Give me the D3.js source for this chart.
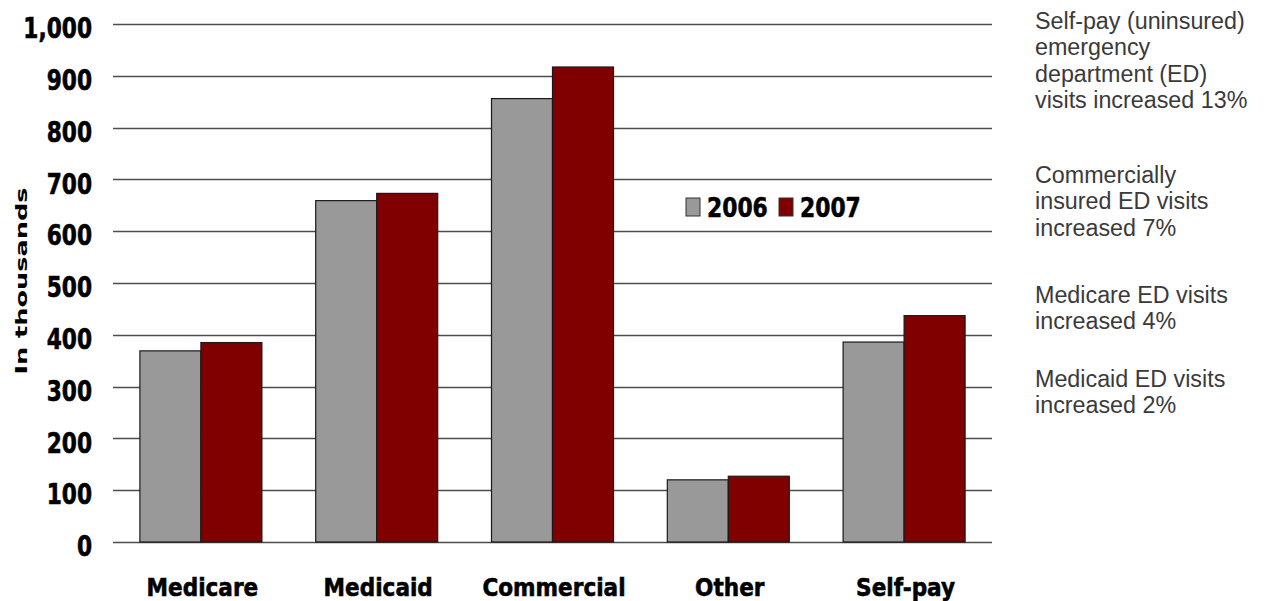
<!DOCTYPE html>
<html>
<head>
<meta charset="utf-8">
<script src="https://cdn.jsdelivr.net/npm/d3@7"></script>
<style>
  body { margin: 0; background: #fff; }
  svg { display: block; }
</style>
</head>
<body>
<div id="chart"></div>
<script>
// Data (ED visits, in thousands).
const categories = ["Medicare", "Medicaid", "Commercial", "Other", "Self-pay"];
const years = ["2006", "2007"];
const visits2006 = [369, 659, 856, 120, 386];
const visits2007 = [385, 673, 917, 127, 437];
const yTicks = [0, 100, 200, 300, 400, 500, 600, 700, 800, 900, 1000];
const notes = [
  ["Self-pay (uninsured)", "emergency", "department (ED)", "visits increased 13%"],
  ["Commercially", "insured ED visits", "increased 7%"],
  ["Medicare ED visits", "increased 4%"],
  ["Medicaid ED visits", "increased 2%"]
];

// Layout.
const W = 1264, H = 601;
const plot = { left: 113, right: 992, top: 24, bottom: 542 };
const colors = { "2006": "#999999", "2007": "#800000" };
const boldFont = "'DejaVu Sans', Verdana, sans-serif";
const noteTops = [29, 183, 303, 387]; // baseline of first line in each note
const noteLine = 26.4;

const svg = d3.select("#chart").append("svg")
  .attr("width", W)
  .attr("height", H);

const x0 = d3.scaleBand()
  .domain(categories)
  .range([plot.left, plot.right])
  .paddingInner(0.306)
  .paddingOuter(0.153);

const x1 = d3.scaleBand()
  .domain(years)
  .range([0, x0.bandwidth()]);

const y = d3.scaleLinear()
  .domain([0, 1000])
  .range([plot.bottom, plot.top]);

// Gridlines (also draw the zero line).
svg.append("g")
  .selectAll("line")
  .data(yTicks)
  .join("line")
  .attr("x1", plot.left)
  .attr("x2", plot.right)
  .attr("y1", d => Math.round(y(d)) + 0.5)
  .attr("y2", d => Math.round(y(d)) + 0.5)
  .attr("stroke", "#4d4d4d")
  .attr("stroke-width", 1.4);

// Bold text helper: a thin stroke to get the heavy look of the original.
function heavy(sel, size) {
  sel.attr("fill", "#000")
    .attr("stroke", "#000")
    .attr("stroke-width", 0.6)
    .style("font-family", boldFont)
    .style("font-weight", "bold")
    .style("font-size", size + "px");
}

// Y axis labels via d3.axisLeft, restyled.
const yAxis = svg.append("g")
  .attr("transform", `translate(${plot.left},0)`)
  .call(d3.axisLeft(y).tickValues(yTicks).tickFormat(d3.format(",")).tickSize(0));
yAxis.select(".domain").remove();
yAxis.selectAll("text")
  .attr("x", 0)
  .attr("dy", "0.5em")
  .attr("transform", "translate(-21,0) scale(0.79,1)")
  .call(heavy, 27.5);

// Bars.
const rows = categories.map((c, i) => ({ cat: c, vals: [visits2006[i], visits2007[i]] }));

svg.append("g")
  .selectAll("g")
  .data(rows)
  .join("g")
  .attr("transform", d => `translate(${x0(d.cat)},0)`)
  .selectAll("rect")
  .data(d => years.map((yr, j) => ({ yr: yr, v: d.vals[j] })))
  .join("rect")
  .attr("x", d => x1(d.yr))
  .attr("y", d => y(d.v))
  .attr("width", x1.bandwidth())
  .attr("height", d => y(0) - y(d.v))
  .attr("fill", d => colors[d.yr])
  .attr("stroke", "#1a1a1a")
  .attr("stroke-width", 1.2);

// Category labels via d3.axisBottom.
const xAxis = svg.append("g")
  .attr("transform", `translate(0,${plot.bottom})`)
  .call(d3.axisBottom(x0).tickSize(0));
xAxis.select(".domain").remove();
xAxis.selectAll("text")
  .attr("y", 0)
  .attr("dy", 0)
  .attr("transform", "translate(1.5,54) scale(0.9,1)")
  .call(heavy, 24);

// Y axis title.
svg.append("text")
  .attr("transform", "translate(27,281) rotate(-90) scale(1.6,1)")
  .attr("text-anchor", "middle")
  .style("font-family", boldFont)
  .style("font-weight", "bold")
  .style("font-size", "16px")
  .text("In thousands");

// Legend.
const legendX = [686, 779];
const legend = svg.append("g")
  .selectAll("g")
  .data(years)
  .join("g")
  .attr("transform", (d, i) => `translate(${legendX[i]},198)`);
legend.append("rect")
  .attr("width", 14)
  .attr("height", 18)
  .attr("fill", d => colors[d])
  .attr("stroke", "#333")
  .attr("stroke-width", 1);
legend.append("text")
  .attr("transform", "translate(21,18.5) scale(0.84,1)")
  .call(heavy, 26);

legend.select("text").text(d => d);

// Notes on the right.
const noteGroups = svg.append("g")
  .selectAll("text")
  .data(notes)
  .join("text")
  .attr("x", 1035)
  .attr("y", (d, i) => noteTops[i])
  .attr("fill", "#3a3a3a")
  .style("font-family", "'Liberation Sans', Arial, sans-serif")
  .style("font-size", "23.3px");
noteGroups.selectAll("tspan")
  .data(d => d)
  .join("tspan")
  .attr("x", 1035)
  .attr("dy", (d, i) => i === 0 ? 0 : noteLine)
  .text(d => d);
</script>
</body>
</html>
